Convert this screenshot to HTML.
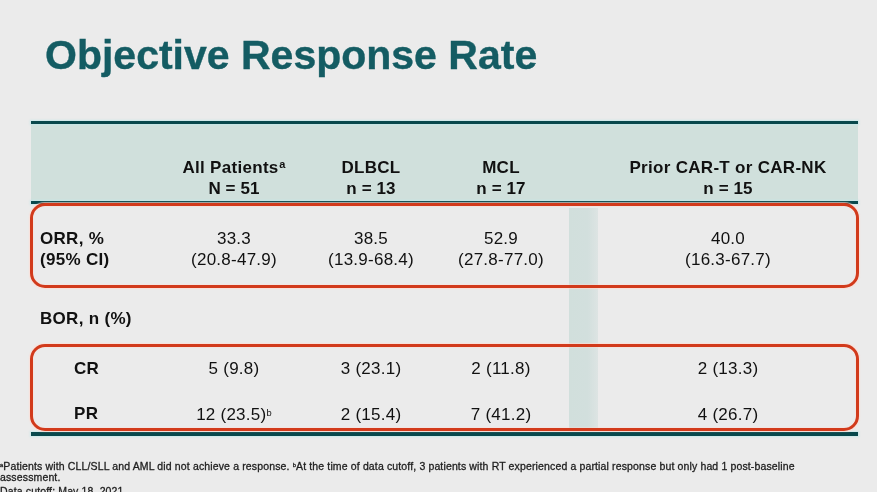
<!DOCTYPE html>
<html><head><meta charset="utf-8">
<style>
html,body{margin:0;padding:0;}
body{width:877px;height:492px;overflow:hidden;background:#ebebeb;position:relative;font-family:"Liberation Sans",sans-serif;color:#111;}
.a{position:absolute;white-space:nowrap;line-height:1;}
.title{left:45px;top:35px;font-size:41px;font-weight:bold;color:#145c63;-webkit-text-stroke:0.4px #145c63;}
.hdrbg{position:absolute;left:31px;top:121px;width:827px;height:82px;background:#d0e0dc;}
.tline{position:absolute;left:31px;width:827px;height:3px;background:#08484c;box-shadow:0 0 2px 1px rgba(195,232,234,0.85);}
.col{position:absolute;left:568.5px;top:207.5px;width:29px;height:221px;background:linear-gradient(90deg,#d1dfdc 0%,#d2dfdd 65%,#dde4e3 100%);}
.box{position:absolute;left:30px;width:823px;border:3px solid #d23a1b;border-radius:15px;box-shadow:0 0 1px 0.5px rgba(255,220,210,0.7), inset 0 0 1px 0.5px rgba(255,220,210,0.7);}
.h{font-size:17px;font-weight:bold;text-align:center;width:260px;letter-spacing:0.3px;}
.c{font-size:17px;text-align:center;width:200px;letter-spacing:0.25px;}
.lb{font-size:17px;font-weight:bold;letter-spacing:0.3px;}
.fn{font-size:10.5px;color:#1e1e1e;letter-spacing:0.14px;-webkit-text-stroke:0.3px #1e1e1e;}
sup{font-size:55%;line-height:0;vertical-align:0.45em;}
</style></head><body><div id="wrap" style="position:absolute;left:0;top:0;width:877px;height:492px;filter:blur(0.35px);">
<div class="a title">Objective Response Rate</div>
<div class="hdrbg"></div>
<div class="tline" style="top:121px"></div>
<div class="tline" style="top:201px"></div>
<div class="tline" style="top:432px;height:4px"></div>
<div class="col"></div>
<div class="box" style="top:203px;height:79px;"></div>
<div class="box" style="top:344px;height:81px;"></div>

<!-- header -->
<div class="a h" style="left:104px;top:159px;">All Patients<sup style="font-size:11px;vertical-align:5.5px;margin-left:0.5px">a</sup></div>
<div class="a h" style="left:104px;top:180px;letter-spacing:0.1px;">N = 51</div>
<div class="a h" style="left:241px;top:159px;">DLBCL</div>
<div class="a h" style="left:241px;top:180px;letter-spacing:0.1px;">n = 13</div>
<div class="a h" style="left:371px;top:159px;">MCL</div>
<div class="a h" style="left:371px;top:180px;letter-spacing:0.1px;">n = 17</div>
<div class="a h" style="left:598px;top:159px;">Prior CAR-T or CAR-NK</div>
<div class="a h" style="left:598px;top:180px;letter-spacing:0.1px;">n = 15</div>

<!-- ORR -->
<div class="a lb" style="left:40px;top:230.4px;">ORR, %</div>
<div class="a lb" style="left:40px;top:251.4px;">(95% CI)</div>
<div class="a c" style="left:134px;top:230px;">33.3</div>
<div class="a c" style="left:134px;top:251px;">(20.8-47.9)</div>
<div class="a c" style="left:271px;top:230px;">38.5</div>
<div class="a c" style="left:271px;top:251px;">(13.9-68.4)</div>
<div class="a c" style="left:401px;top:230px;">52.9</div>
<div class="a c" style="left:401px;top:251px;">(27.8-77.0)</div>
<div class="a c" style="left:628px;top:230px;">40.0</div>
<div class="a c" style="left:628px;top:251px;">(16.3-67.7)</div>

<!-- BOR -->
<div class="a lb" style="left:40px;top:310px;">BOR, n (%)</div>
<div class="a lb" style="left:74px;top:360px;">CR</div>
<div class="a lb" style="left:74px;top:405px;">PR</div>
<div class="a c" style="left:134px;top:360px;">5 (9.8)</div>
<div class="a c" style="left:134px;top:406px;">12 (23.5)<sup>b</sup></div>
<div class="a c" style="left:271px;top:360px;">3 (23.1)</div>
<div class="a c" style="left:271px;top:406px;">2 (15.4)</div>
<div class="a c" style="left:401px;top:360px;">2 (11.8)</div>
<div class="a c" style="left:401px;top:406px;">7 (41.2)</div>
<div class="a c" style="left:628px;top:360px;">2 (13.3)</div>
<div class="a c" style="left:628px;top:406px;">4 (26.7)</div>

<!-- footnotes -->
<div class="a fn" style="left:0px;top:461.2px;"><sup>a</sup>Patients with CLL/SLL and AML did not achieve a response. <sup>b</sup>At the time of data cutoff, 3 patients with RT experienced a partial response but only had 1 post-baseline</div>
<div class="a fn" style="left:0px;top:472.3px;">assessment.</div>
<div class="a fn" style="left:0px;top:486px;">Data cutoff: May 18, 2021</div>
</div></body></html>
